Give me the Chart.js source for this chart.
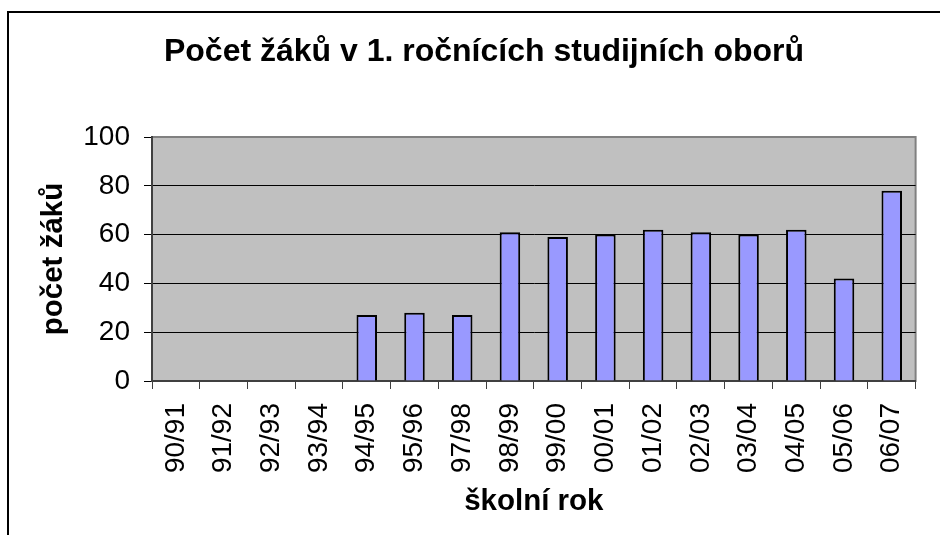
<!DOCTYPE html>
<html lang="cs">
<head>
<meta charset="utf-8">
<title>Počet žáků v 1. ročnících studijních oborů</title>
<script src="https://cdn.jsdelivr.net/npm/chart.js@4.4.1/dist/chart.umd.min.js"></script>
<style>
    html, body {
        margin: 0;
        padding: 0;
        background: #ffffff;
        overflow: hidden;
    }
    .frame {
        position: absolute;
        left: 7px;
        top: 11px;
        width: 1000px;
        height: 600px;
        border-left: 2px solid #000;
        border-top: 2px solid #000;
        pointer-events: none;
    }
    .chart-box {
        position: absolute;
        left: 0;
        top: 0;
        width: 940px;
        height: 535px;
    }
</style>
</head>
<body>
<div class="chart-box"><canvas id="studentsChart"></canvas></div>
<div class="frame"></div>
<script>
const chartTitle = 'Počet žáků v 1. ročnících studijních oborů';
const schoolYears = ['90/91', '91/92', '92/93', '93/94', '94/95', '95/96', '97/98', '98/99',
    '99/00', '00/01', '01/02', '02/03', '03/04', '04/05', '05/06', '06/07'];
const studentCounts = [0, 0, 0, 0, 27, 28, 27, 61, 59, 60, 62, 61, 60, 62, 42, 78];
const yTicks = [0, 20, 40, 60, 80, 100];

const FONT = "'Liberation Sans', Arial, sans-serif";

document.addEventListener('DOMContentLoaded', () => {
    initStudentsChart();
});

// grey plot area with a thin grey frame, like the old Excel charts
const plotAreaBackground = {
    id: 'plotAreaBackground',
    beforeDraw(chart) {
        const { ctx, chartArea } = chart;
        ctx.save();
        ctx.fillStyle = '#C0C0C0';
        ctx.fillRect(chartArea.left, chartArea.top, chartArea.width, chartArea.height);
        ctx.strokeStyle = '#808080';
        ctx.lineWidth = 2;
        ctx.strokeRect(chartArea.left, chartArea.top, chartArea.width, chartArea.height);
        ctx.restore();
    }
};

// heading is centred on the whole frame, not on the padded layout box
const chartHeading = {
    id: 'chartHeading',
    afterDraw(chart) {
        const { ctx } = chart;
        ctx.save();
        ctx.fillStyle = '#000';
        ctx.font = `bold 32px ${FONT}`;
        ctx.textAlign = 'center';
        ctx.textBaseline = 'alphabetic';
        ctx.fillText(chartTitle, 484, 61);
        ctx.restore();
    }
};

function initStudentsChart() {
    const canvas = document.getElementById('studentsChart');
    if (!canvas || typeof Chart === 'undefined') {
        return;
    }

    new Chart(canvas, {
        type: 'bar',
        data: {
            labels: schoolYears,
            datasets: [{
                label: 'počet žáků',
                data: studentCounts,
                backgroundColor: '#9999FF',
                borderColor: '#000000',
                borderWidth: 2,
                borderSkipped: 'bottom',
                barPercentage: 0.43,
                categoryPercentage: 1
            }]
        },
        options: {
            responsive: true,
            maintainAspectRatio: false,
            animation: false,
            layout: {
                padding: { left: 0, right: 21, top: 137, bottom: 0 }
            },
            plugins: {
                legend: { display: false },
                tooltip: { enabled: false },
                title: { display: false }
            },
            scales: {
                x: {
                    afterFit(scale) {
                        scale.height = 154;
                    },
                    border: { display: true, color: '#404040', width: 2 },
                    grid: {
                        offset: true,
                        drawOnChartArea: false,
                        drawTicks: true,
                        tickLength: 8,
                        tickColor: '#404040',
                        tickWidth: 1
                    },
                    ticks: {
                        autoSkip: false,
                        maxRotation: 90,
                        minRotation: 90,
                        padding: 14,
                        color: '#000',
                        font: { family: FONT, size: 28 }
                    },
                    title: {
                        display: true,
                        text: 'školní rok',
                        color: '#000',
                        font: { family: FONT, size: 29.5, weight: 'bold' },
                        padding: { top: 0, bottom: 15 }
                    }
                },
                y: {
                    min: 0,
                    max: 100,
                    afterFit(scale) {
                        scale.width = 152;
                    },
                    afterBuildTicks(scale) {
                        scale.ticks = yTicks.map((value) => ({ value }));
                    },
                    border: { display: true, color: '#404040', width: 2 },
                    grid: {
                        color(context) {
                            return context.tick && context.tick.value === 100 ? 'rgba(0,0,0,0)' : '#000000';
                        },
                        lineWidth: 1,
                        drawTicks: true,
                        tickLength: 8,
                        tickColor: '#000000'
                    },
                    ticks: {
                        padding: 14,
                        color: '#000',
                        font: { family: FONT, size: 28 }
                    },
                    title: {
                        display: true,
                        text: 'počet žáků',
                        color: '#000',
                        font: { family: FONT, size: 29.5, weight: 'bold' },
                        padding: { top: 36, bottom: 0 }
                    }
                }
            }
        },
        plugins: [plotAreaBackground, chartHeading]
    });
}
</script>
</body>
</html>
